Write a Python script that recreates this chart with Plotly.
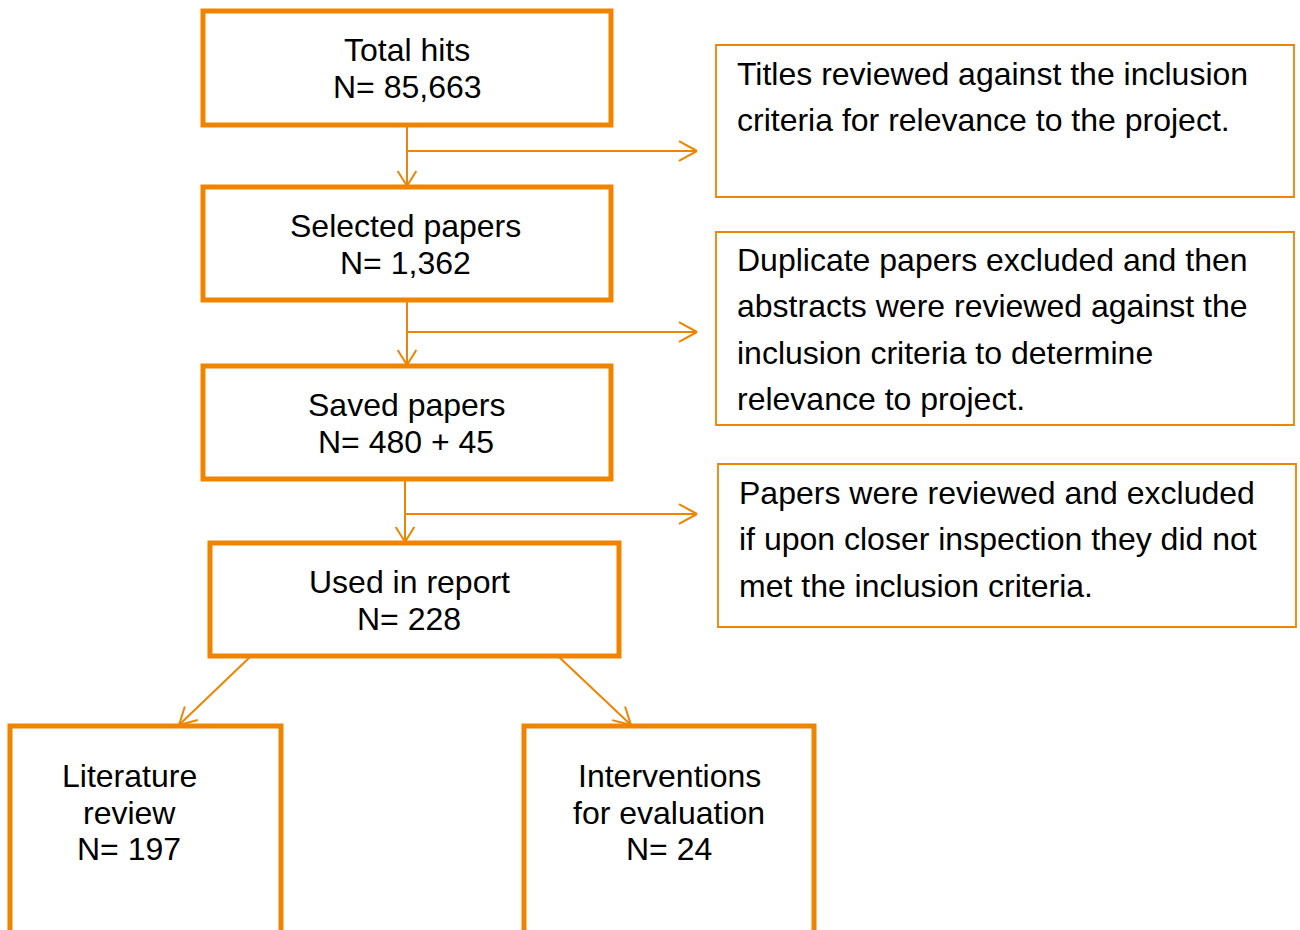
import plotly.graph_objects as go
import math

# ---- content ----
stage_titles = ["Total hits", "Selected papers", "Saved papers", "Used in report"]
stage_counts = ["85,663", "1,362", "480 + 45", "228"]
outcome_titles = [["Literature", "review"], ["Interventions", "for evaluation"]]
outcome_counts = ["197", "24"]
exclusion_notes = [
    ["Titles reviewed against the inclusion", "criteria for relevance to the project."],
    ["Duplicate papers excluded and then", "abstracts were reviewed against the",
     "inclusion criteria to determine", "relevance to project."],
    ["Papers were reviewed and excluded", "if upon closer inspection they did not",
     "met the inclusion criteria."],
]

# ---- layout geometry (pixels, y downwards) ----
ORANGE = "#EF8400"
FONT = "Liberation Sans, Arial, sans-serif"
FS = 32

stage_boxes = [(203, 11, 611, 125), (203, 187, 611, 300), (203, 366, 611, 479), (210, 543, 619, 656)]
stage_text_x = [407, 405, 406, 409]
outcome_boxes = [(10, 726, 281, 960), (524, 726, 814, 960)]
outcome_text_x = [129, 669]
note_boxes = [(716, 45, 1294, 197), (716, 232, 1294, 425), (718, 464, 1296, 627)]
note_text_x = [735, 735, 737]
note_first_y = [74, 260, 493]
note_spacing = 46.3

fig = go.Figure()
shapes = []
ann = []

def line(x0, y0, x1, y1, w=2):
    shapes.append(dict(type="line", x0=x0, y0=y0, x1=x1, y1=y1, xref="x", yref="y",
                       line=dict(color=ORANGE, width=w)))

def head(x, y, ux, uy, L=15, spread=0.6):
    # open V arrowhead at tip (x,y) pointing along (ux,uy)
    n = math.hypot(ux, uy); ux, uy = ux / n, uy / n
    px, py = -uy, ux
    for s in (1, -1):
        line(x, y, x - L * ux + s * spread * L * px, y - L * uy + s * spread * L * py)

def rect(b, w):
    shapes.append(dict(type="rect", x0=b[0], y0=b[1], x1=b[2], y1=b[3], xref="x", yref="y",
                       line=dict(color=ORANGE, width=w), fillcolor="rgba(0,0,0,0)"))

def text(x, y, s, anchor="center"):
    ann.append(dict(x=x, y=y, text=s, xref="x", yref="y", showarrow=False, xanchor=anchor,
                    yanchor="middle", font=dict(family=FONT, size=FS, color="black")))

for i, b in enumerate(stage_boxes):
    rect(b, 5)
    cy = b[1] + 39
    text(stage_text_x[i], cy, stage_titles[i])
    text(stage_text_x[i], cy + 37, "N= " + stage_counts[i])

for i, b in enumerate(outcome_boxes):
    rect(b, 5)
    lines = outcome_titles[i] + ["N= " + outcome_counts[i]]
    for k, s in enumerate(lines):
        text(outcome_text_x[i], 776 + 36.5 * k, s)

for i, b in enumerate(note_boxes):
    rect(b, 1.8)
    for k, s in enumerate(exclusion_notes[i]):
        text(note_text_x[i], note_first_y[i] + note_spacing * k, s, anchor="left")

# connectors between stages with side branches
conn = [(407, 127, 186, 151), (407, 302, 365, 332), (405, 481, 542, 514)]
for x, y0, y1, yb in conn:
    line(x, y0, x, y1)
    head(x, y1, 0, 1, L=15, spread=0.62)
    line(x, yb, 697, yb)
    head(697, yb, 1, 0, L=18, spread=0.55)

# diagonal arrows to outcomes
line(250, 657, 179, 725)
head(179, 725, -71, 68, L=17, spread=0.55)
line(559, 657, 631, 725)
head(631, 725, 72, 68, L=17, spread=0.55)

fig.update_layout(
    width=1300, height=930, margin=dict(l=0, r=0, t=0, b=0),
    paper_bgcolor="white", plot_bgcolor="white", showlegend=False,
    xaxis=dict(range=[0, 1300], visible=False, fixedrange=True),
    yaxis=dict(range=[930, 0], visible=False, fixedrange=True),
    shapes=shapes, annotations=ann,
)
fig.write_html("out.html", config={"displayModeBar": False},
               post_script="document.body.style.margin='0';")
